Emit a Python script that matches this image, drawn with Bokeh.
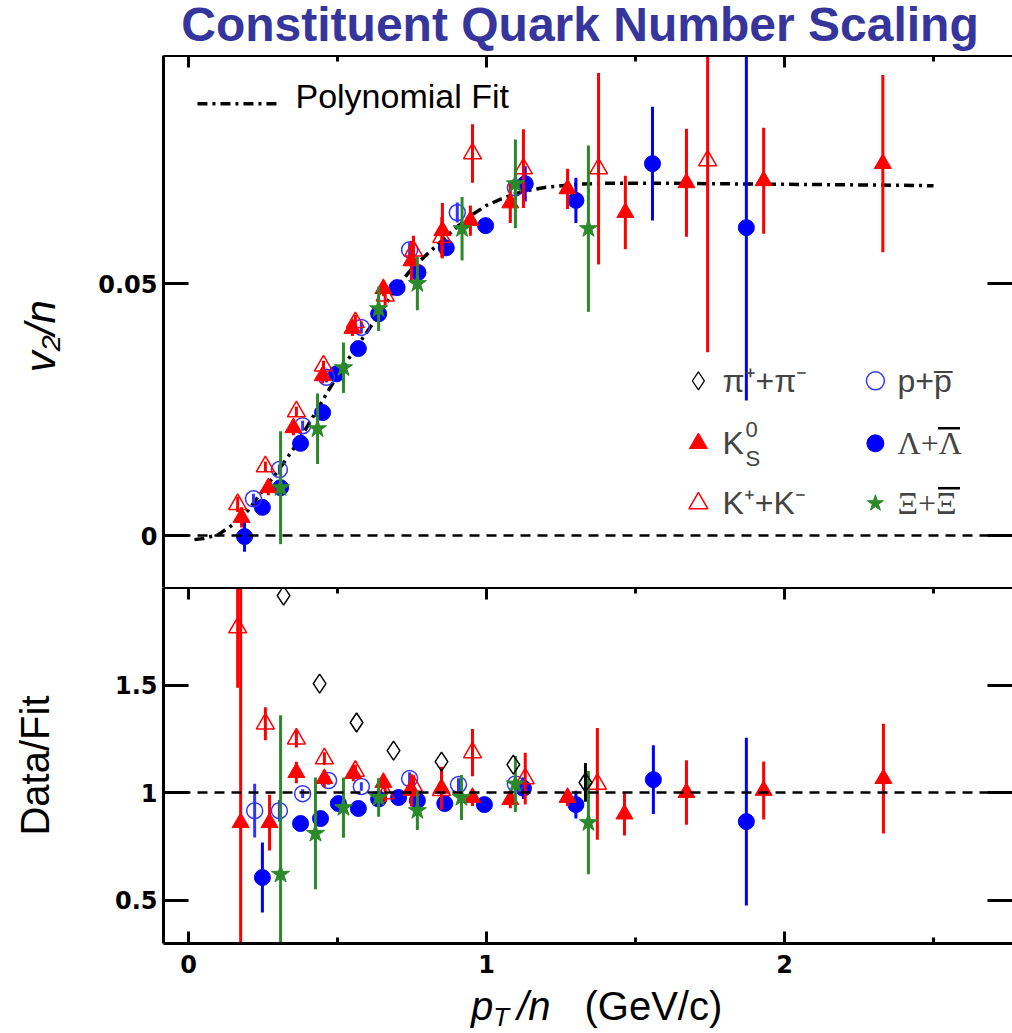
import numpy as np
from bokeh.plotting import figure
from bokeh.layouts import column
from bokeh.models import (Range1d, LinearAxis, FixedTicker, Span, Label, Div,
                          CustomJSTickFormatter)
from bokeh.embed import file_html
from bokeh.resources import INLINE

# ---------------- data ----------------
# polynomial fit curve
fit_pt = [0.02, 0.05, 0.10, 0.15, 0.20, 0.25, 0.30, 0.35, 0.40, 0.45, 0.50, 0.55,
          0.60, 0.65, 0.70, 0.75, 0.80, 0.85, 0.90, 0.95, 1.00, 1.05, 1.10, 1.15,
          1.20, 1.30, 1.40, 1.60, 1.80, 2.00, 2.20, 2.40, 2.50]
fit_v2 = [-0.0008, -0.0006, 0.0002, 0.0022, 0.0050, 0.0090, 0.0128, 0.0170, 0.0218,
          0.0268, 0.0318, 0.0362, 0.0405, 0.0448, 0.0494, 0.0530, 0.0558, 0.0585,
          0.0612, 0.0636, 0.0655, 0.0668, 0.0679, 0.0686, 0.0691, 0.0697, 0.0699,
          0.0699, 0.0698, 0.0697, 0.0696, 0.0695, 0.0694]

# upper panel: v2/n
k0s_pt = [0.178, 0.268, 0.352, 0.45, 0.55, 0.654, 0.748, 0.852, 0.946, 1.08, 1.272, 1.466, 1.671, 1.93, 2.33]
k0s_v2 = [0.0036, 0.0095, 0.0214, 0.0317, 0.0411, 0.049, 0.0545, 0.0605, 0.0625, 0.066, 0.0688, 0.0641, 0.070, 0.0704, 0.0738]
k0s_err = [0.002, 0.0015, 0.0015, 0.0015, 0.0015, 0.0015, 0.004, 0.0055, 0.003, 0.004, 0.004, 0.0073, 0.0107, 0.0105, 0.0176]

kch_pt = [0.165, 0.258, 0.362, 0.453, 0.56, 0.66, 0.755, 0.85, 0.953, 1.124, 1.376, 1.742]
kch_v2 = [0.0062, 0.0137, 0.0246, 0.0337, 0.0423, 0.0476, 0.0565, 0.0592, 0.0758, 0.0728, 0.0728, 0.0744]
kch_err = [0.0015, 0.001, 0.001, 0.001, 0.0015, 0.002, 0.003, 0.004, 0.0058, 0.0078, 0.019, 0.038]

p_pt = [0.218, 0.305, 0.383, 0.463, 0.58, 0.742, 0.902, 1.097]
p_v2 = [0.0073, 0.0131, 0.0218, 0.0314, 0.0413, 0.0567, 0.0641, 0.069]
p_err = [0.001, 0.001, 0.001, 0.001, 0.0012, 0.0015, 0.002, 0.003]

lam_pt = [0.188, 0.248, 0.309, 0.376, 0.45, 0.497, 0.57, 0.638, 0.70, 0.77, 0.865, 0.997, 1.13, 1.30, 1.557, 1.872]
lam_v2 = [-0.0002, 0.0056, 0.0095, 0.0183, 0.0244, 0.0321, 0.0371, 0.044, 0.0492, 0.0522, 0.0571, 0.0615, 0.0698, 0.0665, 0.0738, 0.0611]
lam_err = [0.003, 0.001, 0.001, 0.001, 0.001, 0.001, 0.001, 0.001, 0.001, 0.0012, 0.0015, 0.0015, 0.0035, 0.0045, 0.0113, 0.0343]

xi_pt = [0.309, 0.433, 0.52, 0.638, 0.768, 0.918, 1.097, 1.342]
xi_v2 = [0.0095, 0.0212, 0.0333, 0.045, 0.050, 0.0609, 0.0698, 0.0609]
xi_err = [0.0112, 0.007, 0.005, 0.0044, 0.0053, 0.0063, 0.0088, 0.0165]

# lower panel: Data/Fit
pi_r_pt = [0.319, 0.44, 0.564, 0.688, 0.849, 1.09, 1.332]
pi_r = [1.916, 1.507, 1.326, 1.195, 1.144, 1.13, 1.047]
pi_r_err = [0.0, 0.0, 0.0, 0.0, 0.0, 0.0, 0.09]

k0s_r_pt = [0.175, 0.272, 0.362, 0.456, 0.553, 0.654, 0.748, 0.849, 0.953, 1.08, 1.272, 1.463, 1.671, 1.93, 2.332]
k0s_r = [0.86, 0.86, 1.093, 1.065, 1.088, 1.047, 1.01, 1.02, 0.977, 0.967, 0.977, 0.90, 1.0, 1.01, 1.065]
k0s_r_err = [1.1, 0.13, 0.05, 0.04, 0.035, 0.03, 0.075, 0.1, 0.04, 0.04, 0.04, 0.1, 0.15, 0.135, 0.255]

kch_r_pt = [0.165, 0.258, 0.362, 0.456, 0.56, 0.66, 0.755, 0.849, 0.953, 1.13, 1.372]
kch_r = [1.767, 1.32, 1.25, 1.158, 1.10, 0.995, 1.03, 1.01, 1.186, 1.065, 1.04]
kch_r_err = [0.28, 0.077, 0.04, 0.03, 0.03, 0.04, 0.05, 0.04, 0.11, 0.12, 0.26]

p_r_pt = [0.222, 0.305, 0.383, 0.47, 0.58, 0.742, 0.906, 1.097]
p_r = [0.916, 0.916, 0.995, 1.056, 1.028, 1.065, 1.037, 1.04]
p_r_err = [0.125, 0.05, 0.02, 0.02, 0.02, 0.03, 0.03, 0.03]

lam_r_pt = [0.248, 0.376, 0.443, 0.503, 0.57, 0.638, 0.705, 0.768, 0.86, 0.993, 1.124, 1.30, 1.56, 1.872]
lam_r = [0.605, 0.856, 0.879, 0.949, 0.926, 0.97, 0.977, 0.963, 0.949, 0.944, 1.02, 0.944, 1.06, 0.865]
lam_r_err = [0.163, 0.03, 0.02, 0.02, 0.02, 0.02, 0.02, 0.02, 0.02, 0.02, 0.05, 0.065, 0.16, 0.39]

xi_r_pt = [0.309, 0.426, 0.52, 0.638, 0.768, 0.916, 1.097, 1.342]
xi_r = [0.62, 0.81, 0.93, 0.977, 0.916, 0.977, 1.04, 0.86]
xi_r_err = [0.74, 0.26, 0.14, 0.09, 0.09, 0.105, 0.13, 0.24]

x_ticks = [0, 1, 2]
x_minor = [0.5, 1.5, 2.5]
v2_ticks = [0, 0.05]
ratio_ticks = [0.5, 1, 1.5]

# ---------------- styling ----------------
FONT = "Liberation Sans"
TICK_FONT = "DejaVu Sans"
SERIF = "Liberation Serif"
RED = "#ff0000"
BLUE = "#0000ff"
OBLUE = "#3333ff"
GREEN = "#2a8a2a"
TITLE_COLOR = "#35359b"

X0 = -0.0839
FRAME_W = 849
XPX = 298.0
X1 = X0 + FRAME_W / XPX

num_fmt = CustomJSTickFormatter(code="return String(Math.round(tick*1000)/1000);")


def make_axis(ticks, minor=None, tick_in=25, minor_in=0, labels=True, size="24px"):
    ax = LinearAxis(ticker=FixedTicker(ticks=ticks, minor_ticks=minor or []))
    ax.axis_line_width = 3
    ax.axis_line_color = "black"
    ax.major_tick_line_width = 3
    ax.minor_tick_line_width = 3
    ax.major_tick_in = tick_in
    ax.major_tick_out = 0
    ax.minor_tick_in = minor_in
    ax.minor_tick_out = 0
    if labels:
        ax.formatter = num_fmt
        ax.major_label_text_font = TICK_FONT
        ax.major_label_text_font_style = "bold"
        ax.major_label_text_font_size = size
        ax.major_label_text_color = "black"
        ax.major_label_standoff = 6
    else:
        ax.formatter = CustomJSTickFormatter(code="return '';")
        ax.major_label_standoff = 0
    return ax


def base_fig(y0, y1, frame_h, top, bottom):
    f = figure(frame_width=FRAME_W, frame_height=frame_h,
               x_range=Range1d(X0, X1), y_range=Range1d(y0, y1),
               x_axis_location=None, y_axis_location=None,
               min_border_left=163, min_border_right=0,
               min_border_top=top, min_border_bottom=bottom,
               output_backend="svg", toolbar_location=None)
    f.outline_line_color = None
    f.xgrid.visible = False
    f.ygrid.visible = False
    f.background_fill_color = "white"
    f.border_fill_color = "white"
    return f


def series(f, x, y, e, marker, color, filled, size, lw=3, ecolor=None):
    x = np.asarray(x, float)
    y = np.asarray(y, float)
    e = np.asarray(e, float)
    m = e > 0
    if m.any():
        f.segment(x0=x[m], y0=(y - e)[m], x1=x[m], y1=(y + e)[m],
                  line_color=ecolor or color, line_width=lw)
    f.scatter(x=x, y=y, marker=marker, size=size,
              line_color=color, line_width=1.5 if not filled else 1,
              fill_color=color if filled else None)


def ytitle(ax, text, style, standoff, size="40px"):
    ax.axis_label = text
    ax.axis_label_text_font = FONT
    ax.axis_label_text_font_style = style
    ax.axis_label_text_font_size = size
    ax.axis_label_text_color = "black"
    ax.axis_label_standoff = standoff


# ---------------- title ----------------
title_div = Div(
    text=("<div style=\"margin-left:130px;width:900px;height:55px;line-height:50px;"
          "text-align:center;font-family:'Liberation Sans';font-weight:bold;"
          "font-size:48px;color:" + TITLE_COLOR + ";white-space:nowrap;\">"
          "Constituent Quark Number Scaling</div>"),
    width=1012, height=55, margin=(0, 0, 0, 0))

# ---------------- upper panel ----------------
up = base_fig(-0.0103, -0.0103 + 532 / 5040.0, 532, 0, 0)
ul = make_axis(v2_ticks, tick_in=25)
ytitle(ul, "v₂/n\u2002\u2009", "italic", 31, size="42px")
up.add_layout(ul, "left")
ur = make_axis(v2_ticks, tick_in=25, labels=False)
ur.axis_line_color = None
up.add_layout(ur, "right")
up.add_layout(make_axis(x_ticks, x_minor, tick_in=12, minor_in=6, labels=False), "above")

up.add_layout(Span(location=0, dimension="width", line_color="black",
                   line_width=2.5, line_dash="10 7"))

up.line(fit_pt, fit_v2, line_color="black", line_width=3.5, line_dash="10 5 3 5")

series(up, lam_pt, lam_v2, lam_err, "circle", BLUE, True, 16)
series(up, p_pt, p_v2, p_err, "circle", OBLUE, False, 16)
series(up, k0s_pt, k0s_v2, k0s_err, "triangle", RED, True, 17)
series(up, kch_pt, kch_v2, kch_err, "triangle", RED, False, 18)
series(up, xi_pt, xi_v2, xi_err, "star", GREEN, True, 19)

# legend: polynomial fit
up.line([0.03, 0.309], [0.0857, 0.0857], line_color="black", line_width=3.5,
        line_dash="10 5 3 5")
up.add_layout(Label(x=0.359, y=0.0873, text="Polynomial Fit", text_font=FONT,
                    text_font_size="34px", text_baseline="middle", text_color="black"))

# legend: species (layout positions)
LX1, LX2 = 1.711, 2.305
TX1, TX2 = 1.792, 2.379
R1, R2, R3 = 0.0307, 0.0183, 0.0064
up.scatter([LX1], [R1], marker="diamond", size=18, line_color="black",
           fill_color=None, line_width=1.2)
up.scatter([LX1], [R2], marker="triangle", size=18, line_color=RED, fill_color=RED)
up.scatter([LX1], [R3], marker="triangle", size=19, line_color=RED, fill_color=None,
           line_width=1.5)
up.scatter([LX2], [R1], marker="circle", size=18, line_color=OBLUE, fill_color=None,
           line_width=1.5)
up.scatter([LX2], [R2], marker="circle", size=17, line_color=BLUE, fill_color=BLUE)
up.scatter([LX2], [R3], marker="star", size=17, line_color=GREEN, fill_color=GREEN)

LFS = "32px"
up.add_layout(Label(x=TX1, y=R1, text="π⁺+π⁻", text_font=FONT, text_font_size=LFS,
                    text_baseline="middle"))
up.add_layout(Label(x=TX1, y=R2, text="K", text_font=FONT, text_font_size=LFS,
                    text_baseline="middle"))
up.add_layout(Label(x=TX1 + 0.077, y=R2 + 0.0027, text="0", text_font=FONT,
                    text_font_size="22px", text_baseline="middle"))
up.add_layout(Label(x=TX1 + 0.077, y=R2 - 0.0030, text="S", text_font=FONT,
                    text_font_size="22px", text_baseline="middle"))
up.add_layout(Label(x=TX1, y=R3, text="K⁺+K⁻", text_font=FONT, text_font_size=LFS,
                    text_baseline="middle"))
up.add_layout(Label(x=TX2, y=R1, text="p+p\u0305", text_font=FONT, text_font_size=LFS,
                    text_baseline="middle"))
up.add_layout(Label(x=TX2, y=R2, text="Λ+Λ", text_font=SERIF, text_font_size=LFS,
                    text_baseline="middle"))
up.add_layout(Label(x=TX2, y=R3, text="Ξ+Ξ", text_font=SERIF, text_font_size=LFS,
                    text_baseline="middle"))
# anti-particle bars over the second symbol
up.segment(x0=[2.515, 2.515], y0=[0.0213, 0.0094], x1=[2.589, 2.589], y1=[0.0213, 0.0094],
           line_color="black", line_width=2.5)

# ---------------- lower panel ----------------
R0 = 0.298
lo = base_fig(R0, R0 + 356 / 215.0, 356, 0, 45)
ll = make_axis(ratio_ticks, tick_in=25)
ytitle(ll, "Data/Fit", "normal", 55, size="40px")
lo.add_layout(ll, "left")
lr = make_axis(ratio_ticks, tick_in=25, labels=False)
lr.axis_line_color = None
lo.add_layout(lr, "right")
lo.add_layout(make_axis(x_ticks, x_minor, tick_in=12, minor_in=6, labels=False), "above")
bx = make_axis(x_ticks, x_minor, tick_in=12, minor_in=6)
bx.major_label_standoff = 11
lo.add_layout(bx, "below")

lo.add_layout(Span(location=1, dimension="width", line_color="black",
                   line_width=2.5, line_dash="10 7"))

series(lo, lam_r_pt, lam_r, lam_r_err, "circle", BLUE, True, 16)
series(lo, p_r_pt, p_r, p_r_err, "circle", OBLUE, False, 16)
series(lo, k0s_r_pt, k0s_r, k0s_r_err, "triangle", RED, True, 17)
series(lo, kch_r_pt, kch_r, kch_r_err, "triangle", RED, False, 18)
series(lo, xi_r_pt, xi_r, xi_r_err, "star", GREEN, True, 19)
series(lo, pi_r_pt, pi_r, pi_r_err, "diamond", "black", False, 19, ecolor="black")

# ---------------- x axis title ----------------
xdiv = Div(
    text=("<div style=\"padding-left:471px;height:45px;line-height:36px;"
          "font-family:'Liberation Sans';font-size:40px;color:black;white-space:nowrap;\">"
          "<i>p</i><i style=\"font-size:26px;vertical-align:-6px;\">T</i>"
          "<i style=\"margin-left:8px;\">/n</i>"
          "<span style=\"margin-left:34px;\">(GeV/c)</span></div>"),
    width=1012, height=45, margin=(0, 0, 0, 0))

layout = column(title_div, up, lo, xdiv, spacing=0)
open("out.html", "w").write(file_html(layout, INLINE))
